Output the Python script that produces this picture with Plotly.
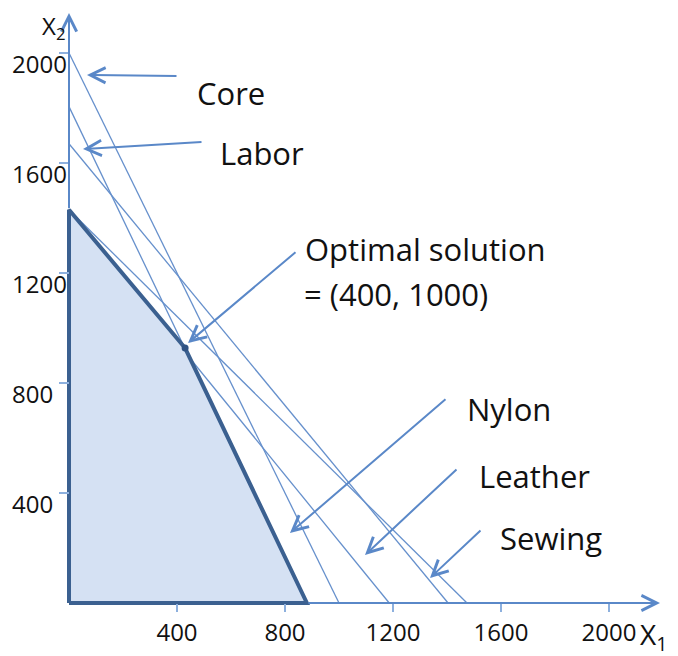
import plotly.graph_objects as go

# constraint lines, given by where they cut the X2 axis and the X1 axis
constraints = ['Core', 'Nylon', 'Labor', 'Leather', 'Sewing']
x2_intercepts = [2000, 1805, 1670, 1430, 1430]
x1_intercepts = [1000, 881, 1404, 1186, 1474]

# corners of the feasible region
region_x1 = [0, 0, 430, 881, 0]
region_x2 = [0, 1430, 927, 0, 0]

optimum_x1 = [430]
optimum_x2 = [927]

tick_vals = [400, 800, 1200, 1600, 2000]
tick_text = ['400', '800', '1200', '1600', '2000']

# the page body has an 8px margin, so the figure is drawn 8px smaller
# and every page position below is given in window pixels
OFF = 8
W, H = 678 - OFF, 656 - OFF
X0, Y0 = 69, 603          # window pixel position of the origin
SX, SY = 0.27, 0.275      # pixels per unit
PL, PR, PT, PB = 57, 660, 13, 615   # plot area edges in window pixels
L, R, T, B = PL - OFF, W - (PR - OFF), PT - OFF, H - (PB - OFF)
x_range = [-(X0 - PL) / SX, (PR - X0) / SX]
y_range = [-(PB - Y0) / SY, (Y0 - PT) / SY]

FONT = 'Open Sans'
LINE_BLUE = '#6690cc'
ARROW_BLUE = '#5a88c8'
DARK_BLUE = '#3b6090'
TEXT = '#111111'


def dx(px):
    return (px - X0) / SX


def dy(py):
    return (Y0 - py) / SY


def paper_x(px):
    return (px - PL) / (PR - PL)


def paper_y(py):
    return (PB - py) / (PB - PT)


fig = go.Figure()

for name, y_int, x_int in zip(constraints, x2_intercepts, x1_intercepts):
    fig.add_trace(go.Scatter(x=[0, x_int], y=[y_int, 0], mode='lines', name=name,
                             line=dict(color=LINE_BLUE, width=1.3),
                             hoverinfo='skip'))

fig.add_trace(go.Scatter(x=region_x1, y=region_x2, mode='lines', fill='toself',
                         fillcolor='#d5e1f3',
                         line=dict(color=DARK_BLUE, width=4),
                         hoverinfo='skip'))

fig.add_trace(go.Scatter(x=optimum_x1, y=optimum_x2, mode='markers',
                         marker=dict(color='#2f5384', size=7),
                         hoverinfo='skip'))

annotations = []

# axes drawn as arrows; the part along the region is covered by its border
annotations.append(dict(x=x_range[1], y=0, ax=region_x1[3], ay=0, axref='x', ayref='y',
                        xref='x', yref='y', text='', showarrow=True,
                        arrowhead=5, arrowsize=1.5, arrowwidth=2, arrowcolor=ARROW_BLUE))
annotations.append(dict(x=0, y=y_range[1], ax=0, ay=region_x2[1], axref='x', ayref='y',
                        xref='x', yref='y', text='', showarrow=True,
                        arrowhead=5, arrowsize=1.5, arrowwidth=2, arrowcolor=ARROW_BLUE))

# y tick labels (left aligned, sitting a little under their tick)
for v, t in zip(tick_vals, tick_text):
    annotations.append(dict(x=paper_x(10), y=v, xref='paper', yref='y', text=t,
                            showarrow=False, xanchor='left', yanchor='middle', yshift=-10,
                            font=dict(family=FONT, size=24, color=TEXT)))

# axis names
annotations.append(dict(x=paper_x(653), y=paper_y(636), xref='paper', yref='paper',
                        text='X<sub>1</sub>', showarrow=False,
                        xanchor='center', yanchor='middle',
                        font=dict(family=FONT, size=28, color=TEXT)))
annotations.append(dict(x=paper_x(53), y=paper_y(27), xref='paper', yref='paper',
                        text='X<sub>2</sub>', showarrow=False,
                        xanchor='center', yanchor='middle',
                        font=dict(family=FONT, size=24, color=TEXT)))

# pointer arrows: (tip, tail) in window pixels
pointers = [((87, 75), (178, 76)), ((83, 149), (203, 142)), ((188, 343), (297, 251)),
            ((290, 533), (447, 398)), ((365, 555), (458, 468)), ((430, 578), (482, 529))]
for (tx, ty), (sx, sy) in pointers:
    annotations.append(dict(x=dx(tx), y=dy(ty), xref='x', yref='y', text='',
                            showarrow=True, ax=sx - tx, ay=sy - ty,
                            arrowhead=5, arrowsize=1.5, arrowwidth=2, arrowcolor=ARROW_BLUE))

# labels: text, left x, centre y (window pixels)
labels = [('Core', 195, 93), ('Labor', 218, 153), ('Optimal solution', 303, 249),
          ('= (400, 1000)', 302, 294), ('Nylon', 465, 409), ('Leather', 477, 476),
          ('Sewing', 498, 538)]
for text, lx, ly in labels:
    annotations.append(dict(x=paper_x(lx), y=paper_y(ly), xref='paper', yref='paper',
                            text=text, showarrow=False, xanchor='left', yanchor='middle',
                            font=dict(family=FONT, size=31, color=TEXT)))

fig.update_layout(
    width=W, height=H,
    margin=dict(l=L, r=R, t=T, b=B, autoexpand=False),
    paper_bgcolor='white',
    plot_bgcolor='white',
    showlegend=False,
    font=dict(family=FONT, color=TEXT),
    xaxis=dict(range=x_range, showgrid=False, zeroline=False, showline=False,
               anchor='free', position=(0 - y_range[0]) / (y_range[1] - y_range[0]),
               tickvals=tick_vals, ticktext=tick_text, ticks='outside', ticklen=8,
               tickwidth=1.5, tickcolor='#8db0de', automargin=False,
               tickfont=dict(family=FONT, size=24, color=TEXT)),
    yaxis=dict(range=y_range, showgrid=False, zeroline=False, showline=False,
               anchor='free', position=(0 - x_range[0]) / (x_range[1] - x_range[0]),
               tickvals=tick_vals, ticks='outside', ticklen=10, automargin=False,
               tickwidth=1.5, tickcolor='#8db0de', showticklabels=False),
    annotations=annotations,
)

fig.write_html("out.html")
